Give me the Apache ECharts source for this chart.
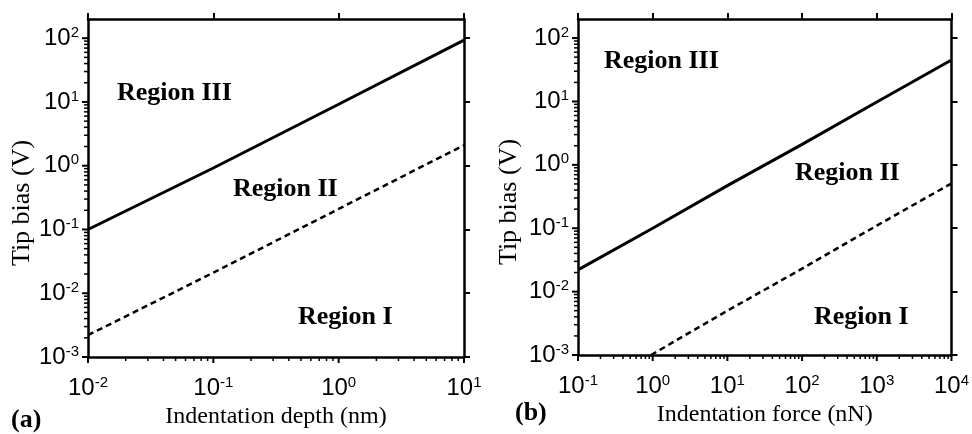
<!DOCTYPE html>
<html>
<head>
<meta charset="utf-8">
<title>Tip bias regions</title>
<script src="https://cdn.jsdelivr.net/npm/echarts@6/dist/echarts.min.js"></script>
<style>
  html, body { margin: 0; padding: 0; background: #fff; }
  #chart { width: 972px; height: 434px; }
</style>
</head>
<body>
<div id="chart"></div>
<script>
// Panel (a): bias thresholds against indentation depth
const depthNm = [0.01, 0.1, 1, 10];
const upperBiasA = [0.1, 0.92, 9.2, 93];
const lowerBiasA = [0.0022, 0.021, 0.21, 2.1];

// Panel (b): bias thresholds against indentation force
const forceNn = [0.1, 1, 10, 100, 1000, 10000];
const upperBiasB = [0.022, 0.1, 0.47, 2.1, 9.8, 45];
const lowerForceNn = [0.95, 10, 100, 1000, 10000];
const lowerBiasB = [0.001, 0.005, 0.023, 0.11, 0.51];

// Axis ranges and decade ticks
const depthRange = [0.01, 10];
const forceRange = [0.1, 10000];
const biasRange = [0.001, 200];
const depthDecades = [0.01, 0.1, 1, 10];
const forceDecades = [0.1, 1, 10, 100, 1000, 10000];
const biasDecades = [0.001, 0.01, 0.1, 1, 10, 100];

const regionNames = ['Region I', 'Region II', 'Region III'];
const panelTags = ['(a)', '(b)'];
const axisTitles = {
  depth: 'Indentation depth (nm)',
  force: 'Indentation force (nN)',
  bias: 'Tip bias (V)'
};

const SANS = '"Liberation Sans", Arial, sans-serif';
const SERIF = '"Liberation Serif", "Times New Roman", serif';

function pairs(xs, ys) {
  const out = [];
  for (let i = 0; i < xs.length; i++) if (ys[i] != null) out.push([xs[i], ys[i]]);
  return out;
}

// 2..9 subdivisions of every decade inside a range
function minorSteps(decades, range) {
  const out = [];
  decades.forEach(function (d) {
    for (let k = 2; k <= 9; k++) {
      const v = +(k * d).toPrecision(6);
      if (v > range[0] && v < range[1]) out.push(v);
    }
  });
  return out;
}

function powLabel(v) {
  const e = Math.log10(v);
  const r = Math.round(e);
  if (Math.abs(e - r) > 1e-6) return '';
  return '{b|10}{e|' + (r < 0 ? '-' + (-r) : r) + '}';
}

function richPow() {
  return {
    b: { fontFamily: SANS, fontSize: 24, color: '#000', lineHeight: 26 },
    e: { fontFamily: SANS, fontSize: 15, color: '#000', verticalAlign: 'top', lineHeight: 26, padding: [0, 0, 9, 0] }
  };
}
function blackLine() {
  return { show: true, onZero: false, lineStyle: { color: '#000', width: 2.5 } };
}

const panelA = { left: 88, top: 19, width: 376, height: 338 };
const panelB = { left: 578, top: 19, width: 375, height: 336 };

function mainX(idx, range, decades, title) {
  return {
    type: 'log', gridIndex: idx, position: 'bottom', min: range[0], max: range[1],
    axisLine: blackLine(),
    axisTick: { show: false },
    splitLine: { show: false },
    axisLabel: { margin: 18, formatter: powLabel, rich: richPow(), customValues: decades },
    name: title, nameLocation: 'middle', nameGap: 45,
    nameTextStyle: { fontFamily: SERIF, fontSize: 24, color: '#000' }
  };
}
function frameX(idx, range, decades) {
  return {
    type: 'log', gridIndex: idx, position: 'top', min: range[0], max: range[1],
    axisLine: blackLine(),
    axisTick: { show: true, length: 6, lineStyle: { color: '#000', width: 2 }, customValues: decades },
    axisLabel: { show: false }, splitLine: { show: false }
  };
}
function mainY(idx, gap) {
  return {
    type: 'log', gridIndex: idx, position: 'left', min: biasRange[0], max: biasRange[1],
    axisLine: blackLine(),
    axisTick: { show: false },
    splitLine: { show: false },
    axisLabel: { margin: 9, formatter: powLabel, rich: richPow(), customValues: biasDecades },
    name: axisTitles.bias, nameLocation: 'middle', nameGap: gap, nameRotate: 90,
    nameTextStyle: { fontFamily: SERIF, fontSize: 26, color: '#000', padding: [0, 30, 0, 0] }
  };
}
function frameY(idx) {
  return {
    type: 'log', gridIndex: idx, position: 'right', min: biasRange[0], max: biasRange[1],
    axisLine: blackLine(),
    axisTick: { show: true, length: 6, lineStyle: { color: '#000', width: 2 }, customValues: biasDecades },
    axisLabel: { show: false }, splitLine: { show: false }
  };
}

// Outward tick marks along the bottom (dir 'x') or left (dir 'y') edge, placed
// through the panel's own log scales.
function edgeTicks(axisIdx, dir, values, edgeValue, len, width) {
  return {
    type: 'custom', xAxisIndex: axisIdx, yAxisIndex: axisIdx, silent: true, clip: false, z: 4,
    data: values.map(function (v) { return dir === 'x' ? [v, edgeValue] : [edgeValue, v]; }),
    renderItem: function (params, api) {
      const p = api.coord([api.value(0), api.value(1)]);
      const end = dir === 'x' ? [p[0], p[1] + len] : [p[0] - len, p[1]];
      return {
        type: 'line',
        shape: { x1: p[0], y1: p[1], x2: end[0], y2: end[1] },
        style: { stroke: '#000', lineWidth: width }
      };
    }
  };
}

function regionText(name, left, top) {
  return {
    type: 'text', left: left, top: top, silent: true,
    style: { text: name, font: 'bold 26px ' + SERIF, fill: '#000' }
  };
}

const biasMinor = minorSteps(biasDecades, [biasRange[0], 100]);

const chart = echarts.init(document.getElementById('chart'));
chart.setOption({
  animation: false,
  grid: [Object.assign({}, panelA), Object.assign({}, panelB)],
  xAxis: [
    mainX(0, depthRange, depthDecades, axisTitles.depth),
    frameX(0, depthRange, depthDecades),
    mainX(1, forceRange, forceDecades, axisTitles.force),
    frameX(1, forceRange, forceDecades)
  ],
  yAxis: [mainY(0, 52), frameY(0), mainY(1, 56), frameY(1)],
  series: [
    { type: 'line', xAxisIndex: 0, yAxisIndex: 0, data: pairs(depthNm, upperBiasA), showSymbol: false,
      lineStyle: { color: '#000', width: 3 } },
    { type: 'line', xAxisIndex: 0, yAxisIndex: 0, data: pairs(depthNm, lowerBiasA), showSymbol: false,
      lineStyle: { color: '#000', width: 2.5, type: [6, 4] } },
    { type: 'line', xAxisIndex: 2, yAxisIndex: 2, data: pairs(forceNn, upperBiasB), showSymbol: false,
      lineStyle: { color: '#000', width: 3 } },
    { type: 'line', xAxisIndex: 2, yAxisIndex: 2, data: pairs(lowerForceNn, lowerBiasB), showSymbol: false,
      lineStyle: { color: '#000', width: 2.5, type: [6, 4] } },

    edgeTicks(0, 'x', depthDecades, biasRange[0], 6, 2),
    edgeTicks(0, 'x', minorSteps(depthDecades, depthRange), biasRange[0], 4, 1.5),
    edgeTicks(0, 'y', biasDecades, depthRange[0], 6, 2),
    edgeTicks(0, 'y', biasMinor, depthRange[0], 4, 1.5),
    edgeTicks(2, 'x', forceDecades, biasRange[0], 6, 2),
    edgeTicks(2, 'x', minorSteps(forceDecades, forceRange), biasRange[0], 4, 1.5),
    edgeTicks(2, 'y', biasDecades, forceRange[0], 6, 2),
    edgeTicks(2, 'y', biasMinor, forceRange[0], 4, 1.5)
  ],
  graphic: [
    regionText(regionNames[2], 117, 80),
    regionText(regionNames[1], 233, 176),
    regionText(regionNames[0], 298, 304),
    regionText(regionNames[2], 604, 48),
    regionText(regionNames[1], 795, 160),
    regionText(regionNames[0], 814, 304),
    { type: 'text', left: 11, top: 407, style: { text: panelTags[0], font: 'bold 26px ' + SERIF, fill: '#000' } },
    { type: 'text', left: 515, top: 400, style: { text: panelTags[1], font: 'bold 26px ' + SERIF, fill: '#000' } }
  ]
});
</script>
</body>
</html>
